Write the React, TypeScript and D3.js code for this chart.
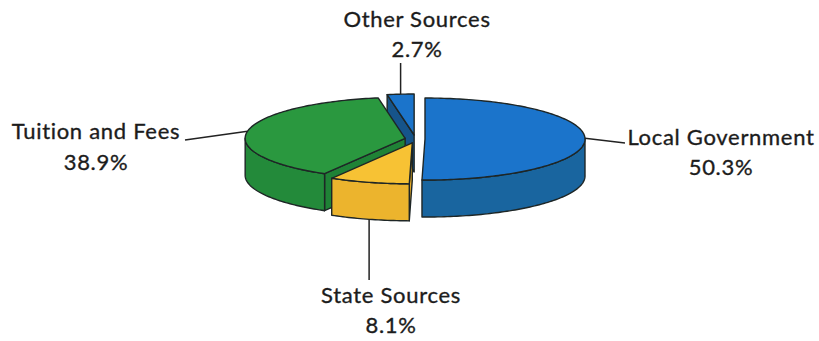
import React from "react";
import * as d3 from "d3";

const categories = ["Local Government", "State Sources", "Tuition and Fees", "Other Sources"];
const shares = [50.3, 8.1, 38.9, 2.7];
const shareLabels = ["50.3%", "8.1%", "38.9%", "2.7%"];
const topColors = ["#1b74cb", "#f7c234", "#2a983f", "#1b74cb"];
const sideColors = ["#19659f", "#ecb42d", "#238a3a", "#175f9c"];
const faceColors = ["#155a8e", "#e3a928", "#1f8236", "#16548a"];

const W = 819;
const H = 341;
const cx = 415;
const cy = 139;
const rx = 160;
const ry = 41;
const depth = 37;
const explode = 10;
const stroke = "#1e2626";
const FONT = "Lato, 'Open Sans', sans-serif";

type Slice = { i: number; a0: number; a1: number; ox: number; oy: number };

export default function App() {
  const arcs = d3.pie<number>().sort(null).startAngle(0).endAngle(2 * Math.PI).value((d) => d)(shares);
  const slices: Slice[] = arcs.map((a, i) => {
    const mid = (a.startAngle + a.endAngle) / 2;
    return {
      i,
      a0: a.startAngle,
      a1: a.endAngle,
      ox: explode * Math.sin(mid),
      oy: -explode * 0.4 * Math.cos(mid),
    };
  });

  const pt = (s: Slice, a: number, h = 0): [number, number] => [
    cx + s.ox + rx * Math.sin(a),
    cy + s.oy - ry * Math.cos(a) + h,
  ];
  const ctr = (s: Slice, h = 0): [number, number] => [cx + s.ox, cy + s.oy + h];
  const arcPts = (s: Slice, from: number, to: number, h = 0) => {
    const n = Math.max(2, Math.ceil(Math.abs(to - from) / 0.02));
    return d3.range(n + 1).map((k) => pt(s, from + ((to - from) * k) / n, h));
  };
  const poly = (p: [number, number][]) => "M" + p.map((q) => q[0].toFixed(2) + "," + q[1].toFixed(2)).join("L") + "Z";

  // radial faces
  const faces: { key: string; d: string; z: number; color: string }[] = [];
  slices.forEach((s) => {
    if (Math.sin(s.a0) < -1e-4) {
      faces.push({
        key: "fs" + s.i,
        d: poly([ctr(s), pt(s, s.a0), pt(s, s.a0, depth), ctr(s, depth)]),
        z: Math.cos(s.a0),
        color: faceColors[s.i],
      });
    }
    if (Math.sin(s.a1) > 1e-4) {
      faces.push({
        key: "fe" + s.i,
        d: poly([ctr(s), pt(s, s.a1), pt(s, s.a1, depth), ctr(s, depth)]),
        z: Math.cos(s.a1),
        color: faceColors[s.i],
      });
    }
  });
  faces.sort((a, b) => b.z - a.z);

  // outer walls (front half only)
  const walls = slices
    .map((s) => {
      const lo = Math.max(s.a0, Math.PI / 2);
      const hi = Math.min(s.a1, (3 * Math.PI) / 2);
      if (hi <= lo) return null;
      const top = arcPts(s, lo, hi);
      const bot = arcPts(s, hi, lo, depth);
      return { key: "w" + s.i, d: poly([...top, ...bot]), color: sideColors[s.i] };
    })
    .filter(Boolean) as { key: string; d: string; color: string }[];

  const tops = slices.map((s) => ({
    key: "t" + s.i,
    d: poly([ctr(s), ...arcPts(s, s.a0, s.a1)]),
    color: topColors[s.i],
  }));

  // leader anchors from geometry
  const local = slices[0];
  const state = slices[1];
  const tuition = slices[2];
  const other = slices[3];
  const localA = pt(local, Math.PI / 2 - 0.02);
  const stateMid = (state.a0 + state.a1) / 2;
  const stateA = pt(state, stateMid, depth);
  const tuitionA = pt(tuition, (280 * Math.PI) / 180);
  const otherMid = (other.a0 + other.a1) / 2;
  const otherA = pt(other, otherMid);

  const labels = [
    { i: 3, x: 417, y: 27, y2: 57 },
    { i: 2, x: 96, y: 139, y2: 170 },
    { i: 0, x: 721, y: 145, y2: 175 },
    { i: 1, x: 391, y: 303, y2: 333 },
  ];

  const leaders: [number, number][][] = [
    [otherA, [otherA[0], 63]],
    [tuitionA, [185, 140]],
    [localA, [625, 143]],
    [stateA, [stateA[0], 280]],
  ];

  return (
    <svg width={W} height={H} style={{ position: "absolute", left: 0, top: 0, background: "#fff" }}>
      <rect width={W} height={H} fill="#fff" />
      {leaders.map((l, k) => (
        <line key={"l" + k} x1={l[0][0]} y1={l[0][1]} x2={l[1][0]} y2={l[1][1]} stroke="#222" strokeWidth={1.5} />
      ))}
      {faces.map((f) => (
        <path key={f.key} d={f.d} fill={f.color} stroke={stroke} strokeWidth={1.4} strokeLinejoin="round" />
      ))}
      {walls.map((w) => (
        <path key={w.key} d={w.d} fill={w.color} stroke={stroke} strokeWidth={1.4} strokeLinejoin="round" />
      ))}
      {tops.map((t) => (
        <path key={t.key} d={t.d} fill={t.color} stroke={stroke} strokeWidth={1.4} strokeLinejoin="round" />
      ))}
      {labels.map((l) => (
        <g key={"t" + l.i} fontFamily={FONT} fontSize={22} fill="#1c1c1c" textAnchor="middle" letterSpacing={0.7} stroke="#1c1c1c" strokeWidth={0.35}>
          <text x={l.x} y={l.y}>{categories[l.i]}</text>
          <text x={l.x} y={l.y2}>{shareLabels[l.i]}</text>
        </g>
      ))}
    </svg>
  );
}
